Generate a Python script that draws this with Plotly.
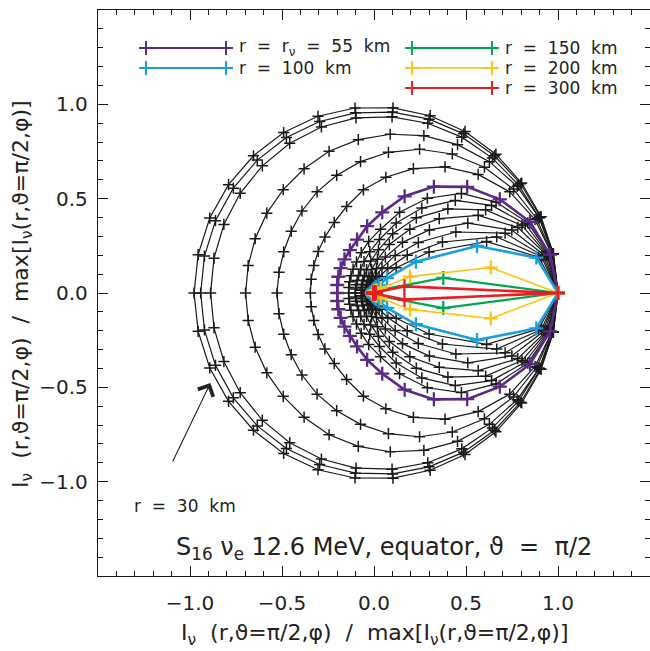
import numpy as np
import plotly.graph_objects as go

# Equatorial momentum-space directions phi (degrees); distributions are
# mirror-symmetric about phi = 0, so only 0..180 is tabulated.
PHI_DEG = [0, 12, 24, 36, 48, 60, 72, 84, 96, 108, 120, 132, 144, 156, 168, 180]

# Normalised specific intensity I(phi) / max I at successive radii (black curves)
i_30km = [1.000, 0.997, 0.994, 0.992, 0.990, 0.989, 0.988, 0.987, 0.986, 0.985, 0.982, 0.979, 0.977, 0.977, 0.977, 0.978]
i_blk2 = [1.000, 0.996, 0.990, 0.985, 0.979, 0.974, 0.969, 0.964, 0.960, 0.956, 0.952, 0.948, 0.945, 0.943, 0.942, 0.942]
i_blk3 = [1.000, 0.993, 0.982, 0.972, 0.962, 0.954, 0.946, 0.939, 0.933, 0.925, 0.916, 0.907, 0.899, 0.893, 0.889, 0.888]
i_blk4 = [1.000, 0.995, 0.982, 0.962, 0.937, 0.908, 0.877, 0.846, 0.817, 0.790, 0.760, 0.737, 0.720, 0.707, 0.699, 0.698]
i_blk5 = [1.000, 0.990, 0.968, 0.937, 0.897, 0.851, 0.801, 0.750, 0.700, 0.656, 0.619, 0.585, 0.556, 0.537, 0.528, 0.527]
i_blk6 = [1.000, 0.988, 0.958, 0.912, 0.846, 0.772, 0.693, 0.617, 0.550, 0.482, 0.432, 0.399, 0.375, 0.358, 0.349, 0.346]
i_blk8 = [1.000, 0.975, 0.915, 0.820, 0.710, 0.580, 0.450, 0.340, 0.275, 0.225, 0.190, 0.170, 0.155, 0.145, 0.140, 0.138]
i_blk9 = [1.000, 0.970, 0.900, 0.790, 0.660, 0.520, 0.390, 0.285, 0.220, 0.175, 0.145, 0.125, 0.113, 0.106, 0.103, 0.102]
i_blk10 = [1.000, 0.965, 0.880, 0.750, 0.600, 0.460, 0.330, 0.230, 0.170, 0.130, 0.105, 0.090, 0.080, 0.074, 0.070, 0.068]
i_blk11 = [1.000, 0.960, 0.855, 0.700, 0.530, 0.390, 0.270, 0.180, 0.125, 0.090, 0.070, 0.058, 0.050, 0.045, 0.042, 0.041]
i_blk12 = [1.000, 0.950, 0.820, 0.630, 0.450, 0.310, 0.200, 0.130, 0.088, 0.063, 0.048, 0.040, 0.034, 0.031, 0.030, 0.030]
i_blk13 = [1.000, 0.940, 0.780, 0.550, 0.360, 0.230, 0.140, 0.090, 0.060, 0.045, 0.035, 0.029, 0.025, 0.023, 0.022, 0.022]
i_blk14 = [1.000, 0.930, 0.730, 0.460, 0.270, 0.150, 0.090, 0.060, 0.042, 0.033, 0.026, 0.022, 0.019, 0.018, 0.017, 0.017]
i_blk15 = [1.000, 0.915, 0.670, 0.370, 0.180, 0.090, 0.055, 0.037, 0.028, 0.022, 0.019, 0.016, 0.015, 0.014, 0.014, 0.014]

# Highlighted radii
i_55km = [1.000, 0.978, 0.928, 0.845, 0.757, 0.651, 0.539, 0.430, 0.356, 0.298, 0.262, 0.240, 0.224, 0.212, 0.204, 0.200]
i_100km = [1.000, 0.902, 0.613, 0.282, 0.106, 0.050, 0.035, 0.025, 0.020, 0.017, 0.015, 0.013, 0.012, 0.012, 0.012, 0.012]
i_150km = [1.000, 0.385, 0.040, 0.015, 0.006, 0.005, 0.004, 0.004, 0.004, 0.004, 0.004, 0.004, 0.004, 0.004, 0.004, 0.004]
i_200km = [1.000, 0.649, 0.214, 0.045, 0.020, 0.010, 0.008, 0.007, 0.006, 0.006, 0.006, 0.006, 0.006, 0.006, 0.006, 0.006]
i_300km = [1.000, 0.169, 0.010, 0.004, 0.003, 0.003, 0.003, 0.003, 0.003, 0.003, 0.003, 0.003, 0.003, 0.003, 0.003, 0.003]

BLACK = [i_30km, i_blk2, i_blk3, i_blk4, i_blk5, i_blk6,
         i_blk8, i_blk9, i_blk10, i_blk11, i_blk12, i_blk13, i_blk14, i_blk15]

SP = "\u00a0\u00a0"  # wide gap between words
LABELS = [f"r{SP}={SP}r<sub>ν</sub>{SP}={SP}55{SP}km",
          f"r{SP}={SP}100{SP}km",
          f"r{SP}={SP}150{SP}km",
          f"r{SP}={SP}200{SP}km",
          f"r{SP}={SP}300{SP}km"]
COLORS = ["#5b2a86", "#1b9ee0", "#00a651", "#ffc20e", "#ed1c24"]
WIDTHS = [2.6, 2.6, 2.2, 1.6, 2.6]
COLORED = [i_55km, i_100km, i_150km, i_200km, i_300km]

FONT = "DejaVu Sans"
INK = "#222222"
AXIS_TITLE = f"I<sub>ν</sub>{SP}(r,ϑ=π/2,φ){SP}/{SP}max[I<sub>ν</sub>(r,ϑ=π/2,φ)]"


def closed_loop(r_half):
    """Mirror a 0..180 deg profile to the full circle and map to x, y."""
    phi = PHI_DEG + [360 - p for p in PHI_DEG[-2::-1]]
    r = list(r_half) + list(r_half[-2::-1])
    ang = np.deg2rad(phi)
    r = np.asarray(r)
    return r * np.cos(ang), r * np.sin(ang)


fig = go.Figure()

for prof in BLACK:
    x, y = closed_loop(prof)
    fig.add_trace(go.Scatter(
        x=x, y=y, mode="lines+markers", showlegend=False, hoverinfo="skip",
        line=dict(color="#1a1a1a", width=1.2),
        marker=dict(symbol="cross-thin", size=8, line=dict(color="#1a1a1a", width=1.5)),
    ))

for prof, col, w in zip(COLORED, COLORS, WIDTHS):
    x, y = closed_loop(prof)
    fig.add_trace(go.Scatter(
        x=x, y=y, mode="lines+markers", showlegend=False, hoverinfo="skip",
        line=dict(color=col, width=w),
        marker=dict(symbol="cross-thin", size=10, line=dict(color=col, width=2.3)),
    ))

# Hand-placed key (two columns) in data units
KEY_COL_X = [(-1.239, -0.804), (0.207, 0.641)]
KEY_ROW_Y = [1.299, 1.193, 1.087]
KEY_SLOTS = [(0, 0), (0, 1), (1, 0), (1, 1), (1, 2)]

annotations = []
for (c, rw), lab, col, w in zip(KEY_SLOTS, LABELS, COLORS, WIDTHS):
    x0, x1 = KEY_COL_X[c]
    yk = KEY_ROW_Y[rw]
    fig.add_trace(go.Scatter(
        x=[x0, x1], y=[yk, yk], mode="lines+markers", showlegend=False, hoverinfo="skip",
        line=dict(color=col, width=min(w, 2.0)),
        marker=dict(symbol="cross-thin", size=10, line=dict(color=col, width=2.0)),
    ))
    annotations.append(dict(
        x=x1 + 0.06, y=yk, xref="x", yref="y", text=lab, showarrow=False,
        xanchor="left", yanchor="middle", font=dict(family=FONT, size=17, color=INK),
    ))

# Labels and arrow to the innermost radius
annotations += [
    dict(x=-1.315, y=-1.129, xref="x", yref="y", text=f"r{SP}={SP}30{SP}km", showarrow=False,
         xanchor="left", yanchor="middle", font=dict(family=FONT, size=17, color=INK)),
    dict(x=-0.889, y=-0.477, ax=-1.098, ay=-0.901, xref="x", yref="y", axref="x", ayref="y",
         text="", showarrow=True, arrowhead=4, arrowsize=3, arrowwidth=1.1, arrowcolor=INK),
    dict(x=0.055, y=-1.352, xref="x", yref="y",
         text=f"S<sub>16</sub> ν<sub>e</sub> 12.6 MeV, equator, ϑ{SP}={SP}π/2", showarrow=False,
         xanchor="center", yanchor="middle", font=dict(family=FONT, size=24, color=INK)),
    dict(x=0.502, y=-0.104, xref="paper", yref="paper",
         text=AXIS_TITLE, showarrow=False,
         xanchor="center", yanchor="middle", font=dict(family=FONT, size=22, color=INK)),
    dict(x=-0.138, y=0.498, xref="paper", yref="paper", textangle=-90,
         text=AXIS_TITLE, showarrow=False,
         xanchor="center", yanchor="middle", font=dict(family=FONT, size=22, color=INK)),
]

TICKS = [-1.0, -0.5, 0.0, 0.5, 1.0]
TICK_TEXT = ["−1.0", "−0.5", "0.0", "0.5", "1.0"]

axis_style = dict(
    range=[-1.5, 1.5], showgrid=False, zeroline=False,
    showline=True, linecolor="#1a1a1a", linewidth=1.3, mirror="ticks",
    ticks="inside", ticklen=10, tickwidth=1.1, tickcolor="#1a1a1a",
    tickmode="array", tickvals=TICKS, ticktext=TICK_TEXT,
    minor=dict(ticks="inside", ticklen=5, tickwidth=1.0, tickcolor="#1a1a1a",
               tickmode="linear", tick0=0, dtick=0.1, showgrid=False),
    tickfont=dict(family=FONT, size=20, color=INK),
    fixedrange=True,
)

fig.update_xaxes(**axis_style, ticklabelstandoff=9)
fig.update_yaxes(**axis_style, ticklabelstandoff=5)

fig.update_layout(
    width=650, height=651,
    margin=dict(l=98, r=0, t=10, b=75),
    paper_bgcolor="white", plot_bgcolor="white",
    showlegend=False,
    annotations=annotations,
)

fig.write_html("out.html")
